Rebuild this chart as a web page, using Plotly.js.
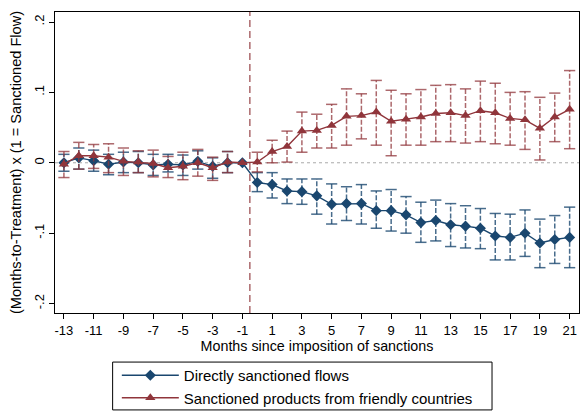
<!DOCTYPE html>
<html>
<head>
<meta charset="utf-8">
<script src="https://cdn.plot.ly/plotly-3.0.1.min.js"></script>
<style>
  html, body { margin: 0; padding: 0; background: #fff; }
  #chart { width: 584px; height: 413px; }
</style>
</head>
<body>
<div id="chart"></div>
<script>
// Event-study estimates by month relative to the imposition of sanctions
const months = [-13,-12,-11,-10,-9,-8,-7,-6,-5,-4,-3,-2,-1,0,1,2,3,4,5,6,7,8,9,10,11,12,13,14,15,16,17,18,19,20,21];

// Directly sanctioned flows: point estimate and 95% CI bounds
const directEst = [0.000,0.007,0.003,-0.002,0.001,0.000,-0.003,-0.002,-0.003,0.002,-0.005,0.000,0.000,
  -0.028,-0.031,-0.040,-0.041,-0.047,-0.059,-0.058,-0.058,-0.068,-0.068,-0.074,-0.085,-0.082,-0.088,
  -0.090,-0.093,-0.104,-0.106,-0.100,-0.114,-0.109,-0.106];
const directHi = [0.012,0.021,0.018,0.012,0.015,0.016,0.012,0.012,0.011,0.017,0.007,0.016,null,
  -0.014,-0.014,-0.023,-0.023,-0.023,-0.030,-0.034,-0.031,-0.040,-0.038,-0.048,-0.056,-0.053,-0.058,
  -0.061,-0.065,-0.072,-0.073,-0.067,-0.080,-0.075,-0.063];
const directLo = [-0.012,-0.009,-0.012,-0.017,-0.014,-0.014,-0.018,-0.013,-0.018,-0.009,-0.022,-0.014,null,
  -0.041,-0.050,-0.058,-0.059,-0.073,-0.087,-0.082,-0.087,-0.093,-0.097,-0.100,-0.113,-0.111,-0.119,
  -0.121,-0.122,-0.138,-0.138,-0.133,-0.149,-0.143,-0.149];

// Sanctioned products from friendly countries: point estimate and 95% CI bounds
const friendlyEst = [-0.002,0.010,0.010,0.008,0.002,0.001,-0.001,-0.007,-0.005,0.000,-0.007,0.001,0.000,
  0.001,0.016,0.023,0.045,0.046,0.053,0.066,0.067,0.072,0.059,0.062,0.065,0.070,0.071,
  0.067,0.074,0.071,0.063,0.061,0.049,0.065,0.076];
const friendlyHi = [0.016,0.029,0.026,0.027,0.021,0.017,0.018,0.009,0.015,0.019,0.008,0.016,null,
  0.015,0.032,0.045,0.072,0.069,0.083,0.105,0.098,0.117,0.103,0.098,0.104,0.110,0.111,
  0.105,0.116,0.113,0.100,0.101,0.093,0.099,0.131];
const friendlyLo = [-0.021,-0.009,-0.008,-0.014,-0.018,-0.014,-0.020,-0.021,-0.024,-0.019,-0.025,-0.014,null,
  -0.013,0.000,0.001,0.015,0.021,0.021,0.025,0.034,0.025,0.010,0.025,0.025,0.030,0.030,
  0.028,0.030,0.027,0.025,0.019,0.004,0.030,0.020];

const xTicks = [-13,-11,-9,-7,-5,-3,-1,1,3,5,7,9,11,13,15,17,19,21];
const yTicks = [-0.2,-0.1,0,0.1,0.2];
const yTickText = ['-.2','-.1','0','.1','.2'];

const seriesNames = ['Directly sanctioned flows', 'Sanctioned products from friendly countries'];

const NAVY = '#1a476f';
const MAROON = '#90353b';

// Dashed whiskers with end caps for a set of intervals
function ciTraces(lo, hi, color) {
  const wx = [], wy = [], cx = [], cy = [];
  months.forEach((m, i) => {
    if (lo[i] === null || hi[i] === null) return;
    wx.push(m, m, null);
    wy.push(lo[i], hi[i], null);
    cx.push(m, m);
    cy.push(lo[i], hi[i]);
  });
  return [
    { x: wx, y: wy, type: 'scatter', mode: 'lines', hoverinfo: 'skip', showlegend: false,
      line: { color: color, width: 1.5, dash: '5px,2px' } },
    { x: cx, y: cy, type: 'scatter', mode: 'markers', hoverinfo: 'skip', showlegend: false,
      marker: { symbol: 'line-ew', size: 8, color: color, line: { color: color, width: 1.5 } } }
  ];
}

const blueCI = 'rgba(26,71,111,0.8)';
const redCI = 'rgba(144,53,59,0.75)';

const data = [
  ...ciTraces(directLo, directHi, blueCI),
  { x: months, y: directEst, name: seriesNames[0], type: 'scatter', mode: 'lines+markers',
    line: { color: NAVY, width: 1.4 },
    marker: { symbol: 'diamond', size: 8.5, color: NAVY } },
  ...ciTraces(friendlyLo, friendlyHi, redCI),
  { x: months, y: friendlyEst, name: seriesNames[1], type: 'scatter', mode: 'lines+markers',
    line: { color: MAROON, width: 1.4 },
    marker: { symbol: 'triangle-up', size: 9, color: MAROON } }
];

const FAMILY = 'Liberation Sans, Arial, sans-serif';
const font = { family: FAMILY, size: 13, color: '#000' };

const layout = {
  width: 584, height: 413,
  margin: { l: 55, r: 5, t: 12, b: 100, autoexpand: false },
  paper_bgcolor: '#fff', plot_bgcolor: '#fff',
  font: font,
  showlegend: true,
  xaxis: {
    range: [-13.6, 21.63],
    tickvals: xTicks, ticktext: xTicks.map(String),
    ticks: 'outside', ticklen: 5, tickwidth: 1, tickcolor: '#000',
    showline: true, linecolor: '#000', linewidth: 1, mirror: true,
    showgrid: false, zeroline: false,
    tickfont: font,
    title: { text: 'Months since imposition of sanctions', font: { family: FAMILY, size: 14.3, color: '#000' }, standoff: 1 }
  },
  yaxis: {
    range: [-0.2134, 0.2142],
    tickvals: yTicks, ticktext: yTickText, tickangle: -90,
    ticks: 'outside', ticklen: 5, tickwidth: 1, tickcolor: '#000',
    showline: true, linecolor: '#000', linewidth: 1, mirror: true,
    showgrid: false, zeroline: false,
    tickfont: font,
    title: { text: '(Months-to-Treatment) x (1 = Sanctioned Flow)', font: { family: FAMILY, size: 14.6, color: '#000' }, standoff: 6 }
  },
  shapes: [
    // zero reference line
    { type: 'line', xref: 'paper', x0: 0, x1: 1, yref: 'y', y0: 0, y1: 0,
      line: { color: '#aaa', width: 1, dash: 'dot' }, layer: 'below' },
    // sanction start
    { type: 'line', xref: 'x', x0: -0.5, x1: -0.5, yref: 'paper', y0: 0, y1: 1,
      line: { color: 'rgba(144,53,59,0.75)', width: 1.5, dash: '7px,4px' }, layer: 'below' },
    // legend frame
    { type: 'rect', xref: 'paper', yref: 'paper', x0: 0.110, x1: 0.834, y0: -0.322, y1: -0.163,
      line: { color: '#000', width: 1 }, fillcolor: 'rgba(0,0,0,0)' }
  ],
  legend: {
    orientation: 'v',
    x: 0.118, xanchor: 'left', y: -0.153, yanchor: 'top',
    bgcolor: 'rgba(0,0,0,0)', borderwidth: 0,
    font: { family: FAMILY, size: 15, color: '#000' }, itemwidth: 57, tracegroupgap: 0
  }
};

Plotly.newPlot('chart', data, layout, { staticPlot: true, displayModeBar: false });
</script>
</body>
</html>
